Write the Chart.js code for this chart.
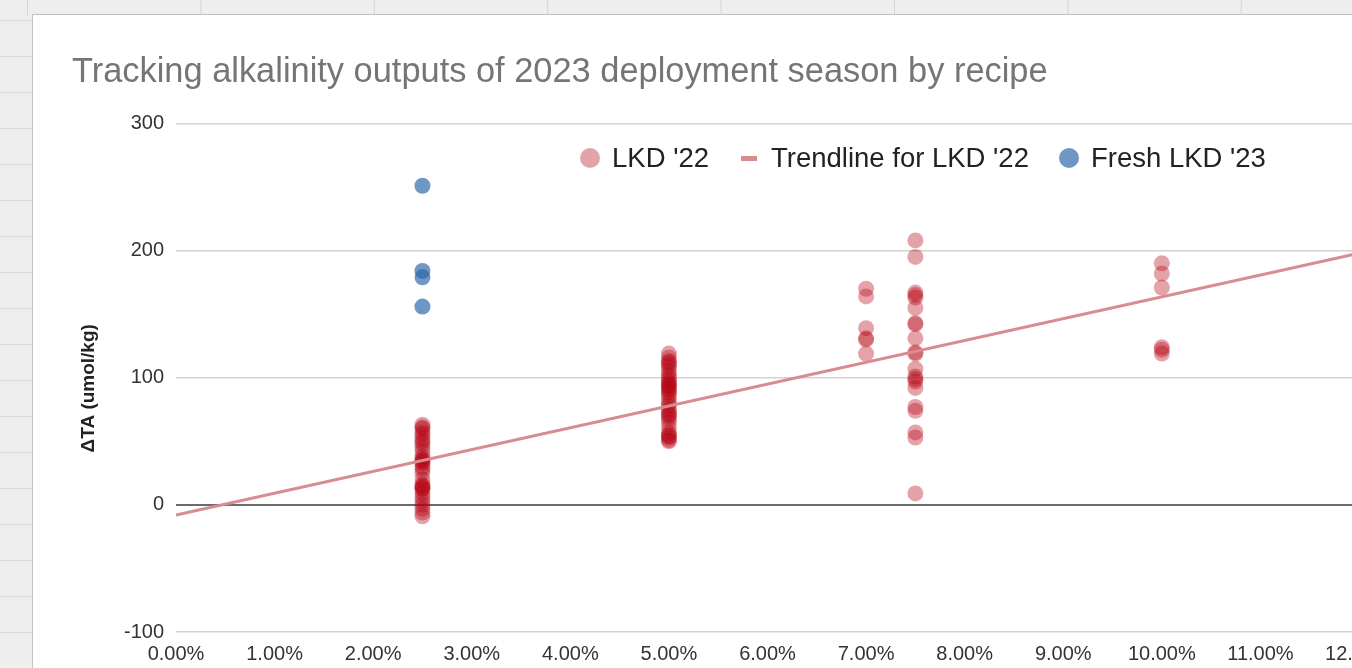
<!DOCTYPE html>
<html>
<head>
<meta charset="utf-8">
<script src="https://cdn.jsdelivr.net/npm/chart.js@4.4.1/dist/chart.umd.min.js"></script>
<style>
  html, body { margin:0; padding:0; width:1352px; height:668px; overflow:hidden; background:#eeeeee; font-family:"Liberation Sans", Arial, sans-serif; }
  #topstrip { position:absolute; left:0; top:0; width:1352px; height:15px;
    background-image: linear-gradient(to right, #d4d4d4 1px, transparent 1px);
    background-size: 173.4px 15px; background-position: 27px 0; }
  #leftstrip { position:absolute; left:0; top:0; width:32px; height:668px;
    background-image: linear-gradient(to bottom, #d8d8d8 1px, transparent 1px);
    background-size: 32px 36px; background-position: 0 20px; }
  #card { position:absolute; left:32px; top:14px; width:1400px; height:700px; background:#ffffff;
    border-left:1px solid #c2c2c2; border-top:1px solid #c2c2c2; }
  #chart { position:absolute; left:0; top:0; }
  #legend { position:absolute; left:580px; top:145px; height:26px; display:flex; align-items:center;
    font-family:"Liberation Sans", Arial, sans-serif; font-size:27.5px; line-height:1; color:#222; white-space:nowrap; }
  #legend .dot { width:20px; height:20px; border-radius:50%; }
  #legend .dash { width:16px; height:5px; }
</style>
</head>
<body>
<div id="topstrip"></div>
<div id="leftstrip"></div>
<div id="card"><canvas id="chart" width="1400" height="700"></canvas></div>
<div id="legend">
  <span class="dot" id="lg1"></span><span style="margin-left:12px">LKD '22</span>
  <span class="dash" id="lg2" style="margin-left:32px"></span><span style="margin-left:14px">Trendline for LKD '22</span>
  <span class="dot" id="lg3" style="margin-left:30px"></span><span style="margin-left:12px">Fresh LKD '23</span>
</div>
<script>
// ---- data ----
const recipePercents = [2.5, 5, 7, 7.5, 10];           // x categories (% LKD in recipe)
const lkd22_2_5pct = [63, 61, 60, 57, 55, 52, 50, 48, 45, 42, 38, 36, 35, 34, 33, 30, 28, 25, 20, 16, 15, 14, 13, 12, 9, 6, 3, 0, -3, -6, -9];
const lkd22_5pct   = [119, 116, 113, 112, 110, 108, 105, 102, 100, 98, 96, 95, 94, 93, 91, 90, 88, 86, 83, 80, 78, 75, 73, 71, 70, 68, 65, 61, 57, 55, 54, 53, 51, 50];
const lkd22_7pct   = [170, 164, 139, 131, 130, 119];
const lkd22_7_5pct = [208, 195, 167, 165, 163, 155, 143, 142, 131, 120, 119, 107, 101, 99, 97, 92, 77, 74, 57, 53, 9];
const lkd22_10pct  = [190, 182, 171, 124, 122, 119];
const freshLkd23X  = [2.5, 2.5, 2.5, 2.5];
const freshLkd23Y  = [251, 184, 179, 156];
const trendX = [0, 12];
const trendY = [-8, 198];
const yTicks = [-100, 0, 100, 200, 300];
const xTickStep = 1;

// ---- styles ----
const lkdColor = 'rgba(180,0,16,0.36)';
const freshColor = 'rgba(40,100,170,0.67)';
const trendColor = '#d88b90';
document.getElementById('lg1').style.background = lkdColor;
document.getElementById('lg2').style.background = trendColor;
document.getElementById('lg3').style.background = freshColor;

const lkdGroups = [lkd22_2_5pct, lkd22_5pct, lkd22_7pct, lkd22_7_5pct, lkd22_10pct];
const lkdPoints = [];
lkdGroups.forEach((vals, i) => vals.forEach(v => lkdPoints.push({x: recipePercents[i], y: v})));
const freshPoints = freshLkd23X.map((x, i) => ({x, y: freshLkd23Y[i]}));
const trendPoints = trendX.map((x, i) => ({x, y: trendY[i]}));

const FONT = '"Liberation Sans", Arial, sans-serif';
Chart.defaults.font.family = FONT;

new Chart(document.getElementById('chart'), {
  type: 'scatter',
  data: {
    datasets: [
      { label: "Trendline for LKD '22", type: 'line', data: trendPoints, borderColor: trendColor,
        borderWidth: 3, pointRadius: 0, fill: false, order: 0 },
      { label: "LKD '22", data: lkdPoints, backgroundColor: lkdColor, borderColor: 'rgba(0,0,0,0)',
        borderWidth: 0, pointRadius: 8, pointHoverRadius: 8, order: 1 },
      { label: "Fresh LKD '23", data: freshPoints, backgroundColor: freshColor, borderColor: 'rgba(0,0,0,0)',
        borderWidth: 0, pointRadius: 8, pointHoverRadius: 8, order: 1 }
    ]
  },
  options: {
    responsive: false,
    animation: false,
    devicePixelRatio: 1,
    layout: { padding: { left: 39, right: 74, top: 0, bottom: 39 } },
    plugins: {
      legend: { display: false },
      tooltip: { enabled: false },
      title: {
        display: true, align: 'start',
        text: 'Tracking alkalinity outputs of 2023 deployment season by recipe',
        color: '#757575', font: { size: 34.4, weight: 'normal', family: FONT },
        padding: { top: 37, bottom: 30.2 }
      }
    },
    scales: {
      x: {
        type: 'linear', min: 0, max: 12,
        ticks: { stepSize: xTickStep, autoSkip: false, maxRotation: 0, padding: 10,
          color: '#333', font: { size: 20 }, callback: v => v.toFixed(2) + '%' },
        grid: { display: false, drawTicks: false },
        border: { display: false }
      },
      y: {
        min: yTicks[0], max: yTicks[yTicks.length - 1],
        afterBuildTicks: s => { s.ticks = yTicks.map(v => ({value: v})); },
        afterFit: s => { s.width = 104; },
        ticks: { padding: 12, color: '#333', font: { size: 20 } },
        grid: { drawTicks: false,
          color: c => c.tick && c.tick.value === 0 ? '#6b6b6b' : '#d3d3d3',
          lineWidth: c => c.tick && c.tick.value === 0 ? 2 : 1.5 },
        border: { display: false },
        title: { display: true, text: 'ΔTA (umol/kg)    ', color: '#222',
          font: { size: 19, weight: 'bold' }, padding: { top: 5, bottom: 0 } }
      }
    }
  }
});
</script>
</body>
</html>
